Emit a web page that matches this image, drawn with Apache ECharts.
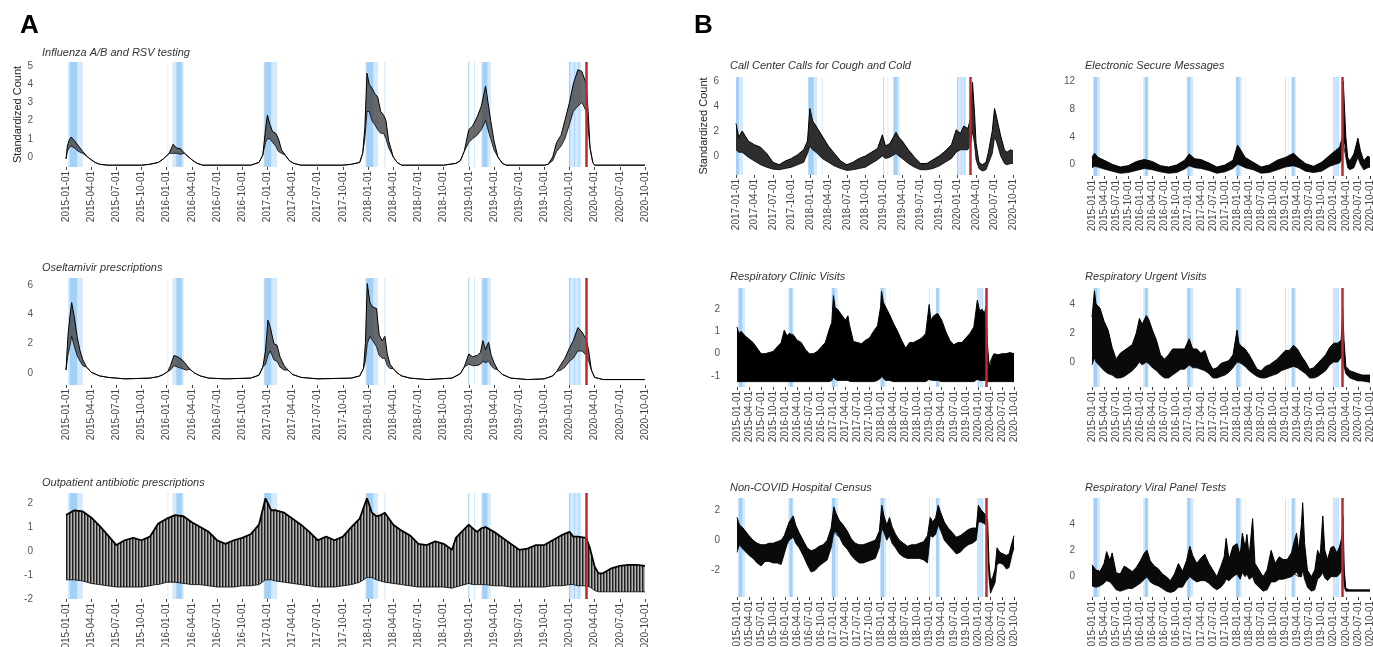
<!DOCTYPE html>
<html><head><meta charset="utf-8">
<script src="https://cdn.jsdelivr.net/npm/echarts@6/dist/echarts.min.js"></script>
<style>html,body{margin:0;padding:0;background:#fff}#c{width:1373px;height:647px}</style>
</head><body><div id="c"></div>
<script>
// [date, upper envelope, lower envelope] ; a single value means upper == lower
const fluData = [
['2015-01-01',-0.1],['2015-01-06',0.6,0.3],['2015-01-12',0.9,0.5],['2015-01-20',1.1,0.6],['2015-02-01',0.9,0.5],
['2015-02-15',0.6,0.3],['2015-03-01',0.3,0.2],['2015-03-15',0.05],['2015-04-01',-0.15],['2015-04-15',-0.3],
['2015-05-01',-0.4],['2015-06-01',-0.45],['2015-10-01',-0.45],['2015-11-01',-0.4],['2015-12-01',-0.3],
['2015-12-20',-0.1],['2016-01-10',0.2],['2016-01-25',0.7,0.2],['2016-02-05',0.5,0.2],['2016-02-20',0.45,0.15],
['2016-03-05',0.2],['2016-03-20',0.0],['2016-04-05',-0.2],['2016-04-20',-0.35],['2016-05-10',-0.45],
['2016-11-01',-0.45],['2016-12-01',-0.3],['2016-12-15',0.1],['2016-12-25',1.5,0.8],['2017-01-01',2.3,1.0],
['2017-01-10',1.8,1.0],['2017-01-20',1.4,0.8],['2017-02-01',1.3,0.6],['2017-02-10',1.0,0.3],['2017-02-20',0.4,0.2],
['2017-03-05',0.1],['2017-03-20',-0.2],['2017-04-05',-0.35],['2017-05-01',-0.45],['2017-10-01',-0.45],
['2017-11-01',-0.4],['2017-12-01',-0.3],['2017-12-12',0.2],['2017-12-20',1.6,1.0],['2017-12-28',4.6,2.5],
['2018-01-05',4.0,2.5],['2018-01-15',3.8,2.0],['2018-01-25',3.5,1.8],['2018-02-05',3.3,1.5],['2018-02-15',2.5,1.3],
['2018-02-25',2.3,1.3],['2018-03-05',2.0,1.0],['2018-03-15',0.9,0.5],['2018-04-01',0.0],['2018-04-15',-0.3],
['2018-05-01',-0.45],['2018-10-01',-0.45],['2018-11-15',-0.35],['2018-12-01',-0.2],['2018-12-15',0.3],
['2019-01-01',1.5,0.8],['2019-01-15',1.7,1.0],['2019-02-01',2.2,1.2],['2019-02-15',2.8,1.5],['2019-03-01',3.9,2.0],
['2019-03-10',3.0,1.5],['2019-03-20',2.0,1.0],['2019-04-01',0.9,0.4],['2019-04-15',0.0],['2019-05-01',-0.35],
['2019-05-15',-0.45],['2019-10-01',-0.45],['2019-10-15',-0.4],['2019-11-01',0.0,-0.2],['2019-11-15',0.8,0.3],
['2019-12-01',1.2,0.6],['2019-12-15',2.0,1.0],['2020-01-01',3.0,1.8],['2020-01-15',4.0,2.5],['2020-02-01',4.8,2.8],
['2020-02-15',4.7,3.0],['2020-03-01',4.0,2.5],['2020-03-08',2.5,1.5],['2020-03-15',0.5],['2020-03-25',-0.3],
['2020-04-01',-0.45],['2020-10-01',-0.45]
];
const oselData = [
['2015-01-01',0.2],['2015-01-08',2.5,1.2],['2015-01-15',3.8,1.8],['2015-01-22',4.8,2.5],['2015-02-01',3.8,1.8],
['2015-02-10',2.5,1.2],['2015-02-20',1.5,0.8],['2015-03-01',0.9,0.5],['2015-03-15',0.4],['2015-04-01',0.05],
['2015-05-01',-0.2],['2015-06-01',-0.3],['2015-08-01',-0.4],['2015-11-01',-0.35],['2015-12-01',-0.25],
['2015-12-20',-0.1],['2016-01-05',0.1],['2016-01-15',0.5,0.2],['2016-01-28',1.2,0.5],['2016-02-10',1.1,0.4],
['2016-02-25',0.9,0.3],['2016-03-10',0.6,0.2],['2016-03-25',0.25],['2016-04-10',0.0],['2016-05-01',-0.2],
['2016-06-01',-0.35],['2016-08-01',-0.4],['2016-11-01',-0.35],['2016-12-01',-0.15],['2016-12-15',0.4],
['2016-12-25',1.5,0.6],['2017-01-03',3.6,1.2],['2017-01-12',3.1,1.5],['2017-01-25',2.0,0.9],['2017-02-05',1.9,0.8],
['2017-02-15',1.1,0.4],['2017-03-01',0.5,0.2],['2017-03-15',0.2],['2017-04-01',-0.1],['2017-05-01',-0.3],
['2017-07-01',-0.4],['2017-11-01',-0.35],['2017-12-01',-0.2],['2017-12-15',0.3],['2017-12-22',2.0,0.8],
['2017-12-29',6.1,2.0],['2018-01-08',4.8,2.5],['2018-01-18',4.5,2.2],['2018-02-01',4.4,1.8],['2018-02-10',2.6,1.2],
['2018-02-20',2.2,1.0],['2018-03-01',2.5,1.0],['2018-03-10',1.3,0.5],['2018-03-20',0.6,0.3],['2018-04-01',0.3],
['2018-04-15',0.0],['2018-05-01',-0.2],['2018-06-01',-0.35],['2018-08-01',-0.45],['2018-11-01',-0.35],
['2018-12-01',-0.05],['2018-12-15',0.4],['2019-01-01',1.3,0.6],['2019-01-15',1.1,0.5],['2019-02-01',1.2,0.5],
['2019-02-12',1.4,0.6],['2019-02-20',2.2,0.8],['2019-03-01',1.6,0.7],['2019-03-12',2.1,0.8],['2019-03-22',1.2,0.5],
['2019-04-01',0.7,0.3],['2019-04-15',0.2],['2019-05-01',-0.1],['2019-06-01',-0.35],['2019-08-01',-0.45],
['2019-10-01',-0.4],['2019-11-01',-0.2],['2019-11-15',0.1],['2019-12-01',0.6,0.2],['2019-12-15',1.0,0.4],
['2020-01-01',1.7,0.8],['2020-01-15',2.2,1.0],['2020-02-01',3.1,1.5],['2020-02-15',2.8,1.5],['2020-03-01',2.3,1.2],
['2020-03-10',1.5,0.8],['2020-03-20',0.2],['2020-04-01',-0.3],['2020-05-01',-0.45],['2020-10-01',-0.45]
];
const abxData = [
['2015-01-01',1.5,-1.2],['2015-02-01',1.7,-1.2],['2015-03-01',1.65,-1.25],['2015-04-01',1.4,-1.35],['2015-05-01',1.05,-1.4],
['2015-06-01',0.65,-1.45],['2015-07-01',0.25,-1.5],['2015-08-01',0.45,-1.5],['2015-09-01',0.55,-1.5],['2015-10-01',0.45,-1.5],
['2015-11-01',0.6,-1.45],['2015-11-20',0.95,-1.4],['2015-12-01',1.15,-1.4],['2016-01-01',1.35,-1.3],['2016-02-01',1.5,-1.3],
['2016-03-01',1.45,-1.35],['2016-04-01',1.2,-1.4],['2016-05-01',1.0,-1.4],['2016-06-01',0.8,-1.45],['2016-07-01',0.45,-1.5],
['2016-08-01',0.3,-1.5],['2016-09-01',0.45,-1.5],['2016-10-01',0.55,-1.45],['2016-11-01',0.7,-1.45],['2016-12-01',1.1,-1.4],
['2016-12-25',2.2,-1.2],['2017-01-15',1.7,-1.2],['2017-02-01',1.7,-1.25],['2017-03-01',1.6,-1.3],['2017-04-01',1.35,-1.35],
['2017-05-01',1.1,-1.4],['2017-06-01',0.8,-1.45],['2017-07-01',0.45,-1.5],['2017-08-01',0.6,-1.5],['2017-09-01',0.45,-1.5],
['2017-10-01',0.6,-1.45],['2017-11-01',1.0,-1.4],['2017-12-01',1.35,-1.3],['2017-12-28',2.2,-1.1],['2018-01-15',1.6,-1.1],
['2018-02-01',1.45,-1.2],['2018-02-15',1.5,-1.25],['2018-03-01',1.6,-1.3],['2018-04-01',1.1,-1.35],['2018-05-01',0.85,-1.4],
['2018-06-01',0.65,-1.45],['2018-07-01',0.3,-1.5],['2018-08-01',0.25,-1.5],['2018-09-01',0.4,-1.5],['2018-10-01',0.3,-1.5],
['2018-11-01',0.05,-1.55],['2018-11-15',0.55,-1.5],['2018-12-01',0.75,-1.45],['2019-01-01',1.1,-1.35],['2019-01-15',0.95,-1.4],
['2019-02-01',0.8,-1.4],['2019-02-15',0.95,-1.4],['2019-03-01',1.0,-1.4],['2019-04-01',0.8,-1.45],['2019-05-01',0.55,-1.45],
['2019-06-01',0.3,-1.5],['2019-07-01',0.05,-1.5],['2019-08-01',0.1,-1.5],['2019-09-01',0.25,-1.5],['2019-10-01',0.25,-1.5],
['2019-11-01',0.45,-1.45],['2019-12-01',0.65,-1.45],['2020-01-01',0.8,-1.4],['2020-01-15',0.6,-1.4],['2020-02-01',0.6,-1.45],
['2020-03-01',0.55,-1.45],['2020-03-15',0.1,-1.5],['2020-04-01',-0.65,-1.65],['2020-04-15',-0.93,-1.7],['2020-05-01',-0.93,-1.7],
['2020-06-01',-0.72,-1.7],['2020-07-01',-0.62,-1.7],['2020-08-01',-0.58,-1.7],['2020-09-01',-0.58,-1.7],['2020-10-01',-0.62,-1.7]
];
const callData = [
['2017-01-01',2.6,0.5],['2017-01-15',1.5,0.3],['2017-02-01',2.0,0.3],['2017-03-01',1.2,-0.1],['2017-04-01',0.9,-0.4],
['2017-05-01',0.7,-0.7],['2017-06-01',0.2,-0.9],['2017-07-01',-0.5,-1.05],['2017-08-01',-0.7,-1.1],['2017-09-01',-0.4,-1.0],
['2017-10-01',-0.2,-0.9],['2017-11-01',0.1,-0.7],['2017-12-01',0.5,-0.5],['2017-12-20',1.2,0.2],['2018-01-01',3.8,0.8],
['2018-01-15',2.8,0.5],['2018-02-01',2.4,0.3],['2018-03-01',1.6,-0.2],['2018-04-01',0.8,-0.5],['2018-05-01',0.2,-0.8],
['2018-06-01',-0.4,-1.0],['2018-07-01',-0.7,-1.15],['2018-08-01',-0.5,-1.1],['2018-09-01',-0.2,-1.0],['2018-10-01',0.0,-0.9],
['2018-11-01',0.3,-0.6],['2018-12-01',0.6,-0.3],['2018-12-25',1.7,0.0],['2019-01-10',0.8,-0.2],['2019-02-01',1.0,-0.1],
['2019-03-01',1.9,0.2],['2019-03-15',1.5,0.0],['2019-04-01',1.2,-0.2],['2019-05-01',0.5,-0.6],['2019-06-01',-0.1,-0.9],
['2019-07-01',-0.6,-1.1],['2019-08-01',-0.6,-1.1],['2019-09-01',-0.3,-1.0],['2019-10-01',0.0,-0.8],['2019-11-01',0.4,-0.5],
['2019-12-01',0.9,-0.2],['2019-12-25',2.1,0.3],['2020-01-15',1.8,0.5],['2020-02-01',2.4,0.5],['2020-02-20',2.2,0.5],
['2020-03-05',3.0,1.0],['2020-03-14',5.9,2.0],['2020-03-24',3.5,1.0],['2020-04-01',1.0,-0.3],['2020-04-15',-0.5,-1.0],
['2020-05-01',-0.7,-1.2],['2020-05-20',-0.5,-1.1],['2020-06-01',0.3,-0.6],['2020-06-20',2.0,0.2],['2020-07-01',3.8,1.5],
['2020-07-10',3.2,1.2],['2020-08-01',1.6,0.0],['2020-08-20',0.5,-0.6],['2020-09-01',0.3,-0.7],['2020-09-20',0.5,-0.6],
['2020-10-01',0.4,-0.6]
];
const msgData = [
['2015-01-01',1.0,-0.5],['2015-01-20',1.6,-0.3],['2015-02-15',1.0,-0.4],['2015-04-01',0.6,-0.7],['2015-06-01',0.0,-1.0],
['2015-08-01',-0.4,-1.3],['2015-10-01',-0.2,-1.2],['2015-12-01',0.4,-0.9],['2016-02-01',0.7,-0.6],['2016-04-01',0.4,-0.8],
['2016-06-01',-0.2,-1.1],['2016-08-01',-0.4,-1.3],['2016-10-01',-0.1,-1.2],['2016-12-01',0.6,-0.7],['2017-01-05',1.5,-0.2],
['2017-02-15',0.8,-0.5],['2017-04-01',0.7,-0.6],['2017-06-01',0.2,-0.9],['2017-08-01',-0.4,-1.3],['2017-10-01',-0.1,-1.1],
['2017-12-01',0.6,-0.6],['2018-01-05',2.8,0.0],['2018-02-01',2.0,-0.2],['2018-03-01',1.0,-0.5],['2018-05-01',0.3,-0.8],
['2018-07-01',-0.4,-1.3],['2018-09-01',-0.1,-1.2],['2018-11-01',0.6,-0.8],['2019-01-01',1.0,-0.4],['2019-03-01',1.6,-0.2],
['2019-04-15',0.8,-0.5],['2019-06-01',0.1,-1.0],['2019-08-01',-0.3,-1.2],['2019-10-01',0.3,-1.0],['2019-12-01',1.3,-0.3],
['2020-01-15',2.0,0.0],['2020-02-15',2.5,0.2],['2020-03-05',4.0,1.0],['2020-03-12',12.1,3.0],['2020-03-20',9.0,3.0],
['2020-04-01',4.0,1.0],['2020-04-15',1.0,-0.5],['2020-05-01',0.5,-0.8],['2020-06-01',1.5,-0.5],['2020-07-01',3.8,1.0],
['2020-07-20',2.0,0.0],['2020-08-15',0.5,-0.8],['2020-09-15',1.2,-0.5],['2020-10-01',1.0,-0.4]
];
const clinicData = [
['2015-01-01',1.2,-1.25],['2015-01-15',0.9,-1.25],['2015-02-01',1.0,-1.25],['2015-03-01',0.8,-1.25],['2015-04-01',0.65,-1.25],
['2015-05-01',0.5,-1.25],['2015-06-01',0.25,-1.25],['2015-07-01',0.0,-1.25],['2015-08-01',0.0,-1.25],['2015-09-01',0.05,-1.25],
['2015-10-01',0.1,-1.25],['2015-11-01',0.3,-1.25],['2015-12-01',0.5,-1.25],['2015-12-25',1.05,-1.25],['2016-01-15',0.8,-1.25],
['2016-02-01',0.9,-1.25],['2016-03-01',0.85,-1.25],['2016-04-01',0.6,-1.25],['2016-05-01',0.5,-1.25],['2016-06-01',0.2,-1.25],
['2016-07-01',0.0,-1.25],['2016-08-01',0.0,-1.25],['2016-09-01',0.1,-1.25],['2016-10-01',0.3,-1.25],['2016-11-01',0.5,-1.25],
['2016-12-01',1.1,-1.25],['2016-12-20',1.4,-1.2],['2017-01-02',2.6,-1.05],['2017-01-15',2.05,-1.15],['2017-02-01',2.0,-1.2],
['2017-03-01',1.75,-1.2],['2017-04-01',1.5,-1.2],['2017-04-20',1.7,-1.2],['2017-05-01',1.3,-1.25],['2017-06-01',0.55,-1.25],
['2017-07-01',0.5,-1.25],['2017-08-01',0.45,-1.25],['2017-09-01',0.6,-1.25],['2017-10-01',0.7,-1.25],['2017-11-01',1.0,-1.25],
['2017-12-01',1.25,-1.2],['2017-12-25',2.1,-1.1],['2018-01-01',2.8,-1.0],['2018-01-15',2.3,-1.1],['2018-02-01',2.1,-1.2],
['2018-03-01',1.75,-1.2],['2018-04-01',1.35,-1.25],['2018-05-01',1.0,-1.25],['2018-06-01',0.6,-1.25],['2018-07-01',0.25,-1.25],
['2018-08-01',0.5,-1.25],['2018-09-01',0.5,-1.25],['2018-10-01',0.6,-1.25],['2018-11-01',0.7,-1.25],['2018-12-01',0.9,-1.25],
['2018-12-28',2.2,-1.15],['2019-01-10',1.5,-1.2],['2019-02-01',1.7,-1.2],['2019-03-01',1.8,-1.2],['2019-04-01',1.5,-1.25],
['2019-05-01',1.0,-1.25],['2019-06-01',0.6,-1.25],['2019-07-01',0.4,-1.25],['2019-08-01',0.5,-1.25],['2019-09-01',0.5,-1.25],
['2019-10-01',0.7,-1.25],['2019-11-01',0.9,-1.25],['2019-12-01',1.2,-1.25],['2019-12-28',2.4,-1.15],['2020-01-15',1.9,-1.2],
['2020-02-01',2.0,-1.2],['2020-02-20',1.8,-1.2],['2020-03-01',2.1,-1.2],['2020-03-12',0.5,-1.25],['2020-03-25',-0.5,-1.25],
['2020-04-01',-0.5,-1.25],['2020-04-15',-0.2,-1.25],['2020-05-01',0.0,-1.25],['2020-06-01',-0.05,-1.25],['2020-07-01',0.0,-1.25],
['2020-08-01',0.0,-1.25],['2020-09-01',0.05,-1.25],['2020-10-01',0.0,-1.25]
];
const urgentData = [
['2015-01-01',3.1,-0.2],['2015-01-20',4.9,0.3],['2015-02-01',4.0,0.0],['2015-03-01',3.7,-0.3],['2015-04-01',2.8,-0.6],
['2015-05-01',2.2,-0.8],['2015-06-01',1.0,-0.9],['2015-07-01',0.2,-1.1],['2015-08-01',0.6,-1.1],['2015-09-01',0.8,-1.0],
['2015-10-01',1.0,-0.8],['2015-11-01',1.2,-0.6],['2015-12-01',2.0,-0.3],['2015-12-25',3.0,0.0],['2016-01-15',2.6,-0.2],
['2016-02-15',3.2,0.0],['2016-03-01',3.0,-0.1],['2016-04-01',2.2,-0.4],['2016-05-01',1.5,-0.6],['2016-06-01',0.5,-0.9],
['2016-07-01',0.2,-1.1],['2016-08-01',0.5,-1.1],['2016-09-01',0.9,-0.9],['2016-10-01',0.9,-0.7],['2016-11-01',0.9,-0.5],
['2016-12-01',0.9,-0.5],['2017-01-05',1.6,-0.2],['2017-02-01',0.9,-0.4],['2017-03-01',0.9,-0.4],['2017-04-01',0.6,-0.5],
['2017-05-01',0.8,-0.6],['2017-06-01',0.0,-0.8],['2017-07-01',-0.5,-1.1],['2017-08-01',-0.4,-1.1],['2017-09-01',-0.1,-1.0],
['2017-10-01',0.0,-0.9],['2017-11-01',0.1,-0.7],['2017-12-01',0.5,-0.4],['2018-01-01',2.2,0.0],['2018-01-15',1.3,0.0],
['2018-02-01',1.1,-0.1],['2018-03-01',0.9,-0.3],['2018-04-01',0.5,-0.6],['2018-05-01',0.0,-0.8],['2018-06-01',-0.5,-1.0],
['2018-07-01',-0.6,-1.1],['2018-08-01',-0.3,-1.1],['2018-09-01',-0.2,-1.0],['2018-10-01',0.0,-0.9],['2018-11-01',0.2,-0.8],
['2018-12-01',0.5,-0.6],['2019-01-01',0.8,-0.5],['2019-02-01',0.8,-0.4],['2019-03-01',1.15,-0.3],['2019-04-01',0.9,-0.4],
['2019-05-01',0.4,-0.6],['2019-06-01',0.0,-0.8],['2019-07-01',-0.5,-1.1],['2019-08-01',-0.4,-1.1],['2019-09-01',-0.1,-1.0],
['2019-10-01',0.2,-0.8],['2019-11-01',0.5,-0.6],['2019-12-01',1.0,-0.2],['2020-01-01',1.3,0.0],['2020-02-01',1.3,0.0],
['2020-02-25',1.5,0.3],['2020-03-08',3.6,0.5],['2020-03-18',1.5,-0.3],['2020-04-01',-0.3,-0.8],['2020-05-01',-0.6,-1.1],
['2020-06-01',-0.7,-1.2],['2020-07-01',-0.8,-1.3],['2020-08-01',-0.9,-1.3],['2020-10-01',-0.9,-1.4]
];
const censusData = [
['2015-01-01',1.5,-0.8],['2015-01-20',1.0,-0.3],['2015-02-15',0.8,-0.6],['2015-04-01',0.3,-1.0],['2015-05-01',0.0,-1.2],
['2015-06-01',-0.2,-1.5],['2015-07-01',-0.3,-1.7],['2015-08-01',-0.3,-1.4],['2015-09-01',-0.2,-1.4],['2015-10-01',-0.2,-1.5],
['2015-11-01',-0.1,-1.5],['2015-12-01',0.0,-1.6],['2015-12-25',0.3,-0.9],['2016-01-15',0.8,-0.3],['2016-02-01',1.2,0.0],
['2016-03-01',1.6,0.2],['2016-03-20',1.0,-0.2],['2016-04-15',0.5,-0.5],['2016-05-15',0.0,-1.0],['2016-06-15',-0.5,-1.6],
['2016-07-15',-0.7,-2.1],['2016-08-15',-0.6,-2.0],['2016-09-15',-0.4,-1.7],['2016-10-15',-0.3,-1.5],['2016-11-15',0.0,-1.3],
['2016-12-15',0.8,-0.5],['2017-01-05',2.2,0.5],['2017-01-20',1.8,0.5],['2017-02-15',1.3,0.2],['2017-03-15',1.0,-0.3],
['2017-04-15',0.6,-0.6],['2017-05-15',0.1,-1.0],['2017-06-15',-0.2,-1.3],['2017-07-15',-0.3,-1.5],['2017-08-15',-0.3,-1.5],
['2017-09-15',-0.2,-1.4],['2017-10-15',-0.1,-1.3],['2017-11-15',0.0,-1.2],['2017-12-15',0.6,-0.5],['2018-01-03',2.3,0.8],
['2018-01-20',1.6,0.5],['2018-02-10',1.0,0.0],['2018-03-01',1.5,0.3],['2018-03-20',0.9,-0.2],['2018-04-15',0.4,-0.5],
['2018-05-15',0.0,-0.9],['2018-06-15',-0.2,-1.1],['2018-07-15',-0.4,-1.2],['2018-08-15',-0.3,-1.2],['2018-09-15',-0.3,-1.2],
['2018-10-15',-0.2,-1.2],['2018-11-15',-0.1,-1.3],['2018-12-15',0.3,-1.5],['2019-01-05',1.5,0.3],['2019-01-25',1.2,0.2],
['2019-02-15',1.5,0.4],['2019-03-05',2.3,1.0],['2019-03-25',1.8,0.6],['2019-04-20',1.2,0.0],['2019-05-20',0.8,-0.3],
['2019-06-20',0.5,-0.6],['2019-07-20',0.2,-0.9],['2019-08-20',0.3,-0.8],['2019-09-20',0.5,-0.5],['2019-10-20',0.7,-0.3],
['2019-11-20',0.8,-0.2],['2019-12-20',0.8,0.0],['2020-01-05',2.3,1.2],['2020-01-25',2.0,1.2],['2020-02-15',1.8,1.1],
['2020-03-05',1.6,1.0],['2020-03-15',1.2,-0.5],['2020-03-25',-1.5,-2.5],['2020-04-05',-2.6,-3.5],['2020-04-20',-2.5,-3.2],
['2020-05-10',-1.9,-2.8],['2020-05-25',-0.5,-1.6],['2020-06-15',-0.8,-1.5],['2020-07-10',-0.9,-1.6],['2020-08-05',-1.0,-1.9],
['2020-08-25',-0.9,-1.8],['2020-09-15',-0.2,-1.0],['2020-10-01',0.3,-0.5]
];
const rvpData = [
['2015-01-01',0.9,-0.7],['2015-02-01',0.5,-0.8],['2015-03-01',0.4,-0.7],['2015-04-01',1.0,-0.5],['2015-04-20',1.9,-0.3],
['2015-05-15',1.2,-0.4],['2015-06-01',1.8,-0.6],['2015-07-01',0.3,-1.0],['2015-08-01',0.2,-1.1],['2015-09-01',0.8,-1.0],
['2015-10-01',0.6,-0.9],['2015-11-01',0.4,-0.9],['2015-12-01',0.7,-0.7],['2016-01-01',1.2,-0.5],['2016-02-01',1.8,-0.2],
['2016-02-20',2.0,0.0],['2016-03-15',1.2,-0.4],['2016-04-15',0.8,-0.6],['2016-05-15',0.6,-0.7],['2016-06-15',0.2,-0.9],
['2016-07-15',0.0,-1.1],['2016-08-15',-0.3,-1.2],['2016-09-15',0.2,-1.1],['2016-10-15',1.0,-0.8],['2016-11-15',0.4,-0.8],
['2016-12-15',1.2,-0.3],['2017-01-10',2.3,0.0],['2017-02-01',1.6,-0.2],['2017-03-01',1.0,-0.4],['2017-04-01',1.4,-0.3],
['2017-05-01',1.7,-0.3],['2017-06-01',1.0,-0.5],['2017-07-01',0.5,-0.8],['2017-08-01',0.0,-1.0],['2017-09-01',0.8,-0.8],
['2017-09-25',1.5,-0.5],['2017-10-10',2.9,-0.2],['2017-11-01',1.3,-0.3],['2017-12-01',2.3,0.0],['2018-01-01',2.5,0.2],
['2018-01-25',1.6,-0.2],['2018-02-10',3.3,0.3],['2018-03-01',2.2,0.0],['2018-03-15',3.2,0.2],['2018-04-01',1.5,-0.2],
['2018-04-27',4.4,0.0],['2018-05-15',1.0,-0.5],['2018-06-15',0.5,-0.8],['2018-07-15',0.0,-1.1],['2018-08-15',0.5,-1.0],
['2018-09-15',2.0,-0.4],['2018-10-15',1.0,-0.4],['2018-11-15',1.5,-0.2],['2018-12-15',1.3,-0.2],['2019-01-15',1.3,-0.1],
['2019-02-15',1.8,0.0],['2019-03-10',2.8,0.2],['2019-03-25',3.3,0.3],['2019-04-10',2.0,0.0],['2019-05-01',4.0,0.0],
['2019-05-10',5.6,0.5],['2019-05-25',2.5,-0.2],['2019-06-15',0.5,-0.8],['2019-07-15',0.0,-1.1],['2019-08-10',0.5,-1.0],
['2019-09-01',2.0,-0.2],['2019-09-20',1.6,0.0],['2019-10-10',4.6,0.3],['2019-10-25',2.0,-0.1],['2019-11-15',1.3,-0.3],
['2019-12-10',2.2,0.0],['2020-01-01',2.3,0.0],['2020-01-25',1.8,0.0],['2020-02-15',2.3,0.2],['2020-03-01',3.0,0.5],
['2020-03-10',4.6,0.3],['2020-03-20',0.5,-0.8],['2020-04-01',-0.9,-1.1],['2020-05-01',-1.0,-1.1],['2020-10-01',-1.0,-1.1]
];
// flagged periods [start, end, shade level]
const bandSpans = [
['2015-01-08','2015-03-01',1],['2015-01-15','2015-02-10',2],
['2016-01-04','2016-01-07',1],['2016-01-22','2016-03-02',1],['2016-02-05','2016-02-25',2],
['2016-12-18','2017-02-05',1],['2016-12-21','2017-01-15',2],
['2017-12-22','2018-02-06',1],['2017-12-25','2018-01-20',2],['2018-02-27','2018-03-03',1],
['2018-12-30','2019-01-03',2],['2019-01-20','2019-01-24',1],['2019-02-15','2019-03-20',1],['2019-02-18','2019-03-08',2],
['2019-12-30','2020-02-12',1],['2019-12-30','2020-01-04',2],['2020-01-18','2020-01-21',2],['2020-02-03','2020-02-06',2]
];
const redLineDate = '2020-03-02';
const yTickValues = {
  flu:[0,1,2,3,4,5], osel:[0,2,4,6], abx:[-2,-1,0,1,2], call:[0,2,4,6], msg:[0,4,8,12],
  clinic:[-1,0,1,2], urgent:[0,2,4], census:[-2,0,2], rvp:[0,2,4]
};

function toM(s){ const p=s.split('-').map(Number); const dim=new Date(p[0],p[1],0).getDate(); return (p[0]-2015)*12+(p[1]-1)+(p[2]-1)/dim; }
function tickLabel(v){ const y=2015+Math.floor(v/12), m=Math.round(v-Math.floor(v/12)*12)+1; return y+'-'+String(m).padStart(2,'0')+'-01'; }

// stripe pattern for the weekly oscillation of antibiotic prescriptions
const pc=document.createElement('canvas'); pc.width=3; pc.height=4;
const pctx=pc.getContext('2d'); ['#1e1e1e','#6e6e6e','#b4b4b4'].forEach((c,i)=>{pctx.fillStyle=c;pctx.fillRect(i,0,1,4);});

const panels = [
 {t:'Influenza A/B and RSV testing', d:fluData, y:yTickValues.flu, l:66,w:579,tp:62,h:105, mn:-0.55,mx:5.22, x0:0, fill:'rgba(70,70,70,0.8)', tx:42,ty:47.5, lm:33, name:43},
 {t:'Oseltamivir prescriptions', d:oselData, y:yTickValues.osel, l:66,w:579,tp:278,h:107, mn:-0.82,mx:6.48, x0:0, fill:'rgba(70,70,70,0.8)', tx:42,ty:262.5, lm:33},
 {t:'Outpatient antibiotic prescriptions', d:abxData, y:yTickValues.abx, l:66,w:579,tp:493,h:106, mn:-2.0,mx:2.42, x0:0, fill:{image:pc,repeat:'repeat'}, tx:42,ty:477.5, lm:33, hw:1.8},
 {t:'Call Center Calls for Cough and Cold', d:callData, y:yTickValues.call, l:736,w:277,tp:77,h:98, mn:-1.52,mx:6.32, x0:24, fill:'#2e2e2e', tx:730,ty:60.5, lm:17, name:27},
 {t:'Electronic Secure Messages', d:msgData, y:yTickValues.msg, l:1092,w:278,tp:77,h:99, mn:-1.7,mx:12.69, x0:0, fill:'#0a0a0a', tx:1085,ty:60.5, lm:17},
 {t:'Respiratory Clinic Visits', d:clinicData, y:yTickValues.clinic, l:737,w:277,tp:288,h:99, mn:-1.49,mx:2.94, x0:0, fill:'#000', tx:730,ty:271.5, lm:17},
 {t:'Respiratory Urgent Visits', d:urgentData, y:yTickValues.urgent, l:1092,w:278,tp:288,h:99, mn:-1.72,mx:5.1, x0:0, fill:'#0a0a0a', tx:1085,ty:271.5, lm:17},
 {t:'Non-COVID Hospital Census', d:censusData, y:yTickValues.census, l:737,w:277,tp:498,h:99, mn:-3.74,mx:2.78, x0:0, fill:'#0a0a0a', tx:730,ty:482.5, lm:17},
 {t:'Respiratory Viral Panel Tests', d:rvpData, y:yTickValues.rvp, l:1092,w:278,tp:498,h:99, mn:-1.54,mx:5.96, x0:0, fill:'#0a0a0a', tx:1085,ty:482.5, lm:17}
];

const FONT='"Liberation Sans", Arial, sans-serif';
const option = {animation:false, grid:[], xAxis:[], yAxis:[], series:[],
  title:[
    {text:'A', left:20, top:13, padding:0, textStyle:{fontSize:26,fontWeight:'bold',color:'#000',fontFamily:FONT}},
    {text:'B', left:694, top:13, padding:0, textStyle:{fontSize:26,fontWeight:'bold',color:'#000',fontFamily:FONT}}
  ]};
const bandColor = {1:'#d5e9fc', 2:'#a3d0f6'};
panels.forEach((p,i)=>{
  option.grid.push({left:p.l, top:p.tp, width:p.w, height:p.h, containLabel:false, outerBoundsMode:'none'});
  option.title.push({text:p.t, left:p.tx, top:p.ty, padding:0, textStyle:{fontSize:11, fontStyle:'italic', fontWeight:'normal', color:'#333', fontFamily:FONT}});
  option.xAxis.push({type:'value', gridIndex:i, min:p.x0, max:69, interval:3,
    axisLine:{show:false, onZero:false}, splitLine:{show:false},
    axisTick:{show:true, length:3, lineStyle:{color:'#444', width:1}},
    axisLabel:{rotate:90, fontSize:10, color:'#444', margin:4, fontFamily:FONT, formatter:tickLabel}});
  const ya = {type:'value', gridIndex:i, min:p.mn, max:p.mx,
    axisLine:{show:false}, splitLine:{show:false},
    axisTick:{show:false},
    axisLabel:{customValues:p.y, fontSize:10, color:'#555', margin:p.lm, fontFamily:FONT}};
  if(p.name){ Object.assign(ya,{name:'Standardized Count', nameLocation:'middle', nameRotate:90, nameGap:p.name,
    nameTextStyle:{fontSize:11, color:'#222', fontFamily:FONT}}); }
  option.yAxis.push(ya);
  const x0 = p.x0;
  const rows = p.d.map(r=>[toM(r[0]), r[1], r.length>2?r[2]:r[1]]);
  const hiPts = rows.map(r=>[r[0], r[1]]);
  const loPts = rows.map(r=>[r[0], r[2]]);
  const areas = bandSpans.filter(b=>toM(b[1])>x0).map(b=>[
    {xAxis:Math.max(x0,toM(b[0])), itemStyle:{color:bandColor[b[2]]}}, {xAxis:toM(b[1])}]);
  option.series.push({type:'line', xAxisIndex:i, yAxisIndex:i, data:loPts, z:1, silent:true, showSymbol:false,
    lineStyle:{opacity:0}, markArea:{silent:true, data:areas}});
  const fill = p.fill;
  option.series.push({type:'custom', xAxisIndex:i, yAxisIndex:i, data:rows, z:2, silent:true,
    encode:{x:0, y:[1,2]},
    renderItem:(params, api)=>{
      if(params.dataIndex!==0) return null;
      const top = rows.map(r=>api.coord([r[0], r[1]]));
      const bot = rows.map(r=>api.coord([r[0], r[2]])).reverse();
      return {type:'polygon', shape:{points:top.concat(bot)}, style:{fill:fill, stroke:null}};
    }});
  option.series.push({type:'line', xAxisIndex:i, yAxisIndex:i, data:loPts, z:3, silent:true,
    showSymbol:false, lineStyle:{color:'#000', width:0.8}});
  option.series.push({type:'line', xAxisIndex:i, yAxisIndex:i, data:hiPts, z:3, silent:true,
    showSymbol:false, lineStyle:{color:'#000', width:p.hw||1}});
  option.series.push({type:'line', xAxisIndex:i, yAxisIndex:i, data:loPts, z:5, silent:true, showSymbol:false,
    lineStyle:{opacity:0}, markLine:{silent:true, symbol:['none','none'], label:{show:false},
      lineStyle:{color:'#c0282d', width:2.5, type:'solid'}, data:[{xAxis:toM(redLineDate)}]}});
});
const chart = echarts.init(document.getElementById('c'), null, {renderer:'canvas'});
chart.setOption(option);
</script></body></html>
